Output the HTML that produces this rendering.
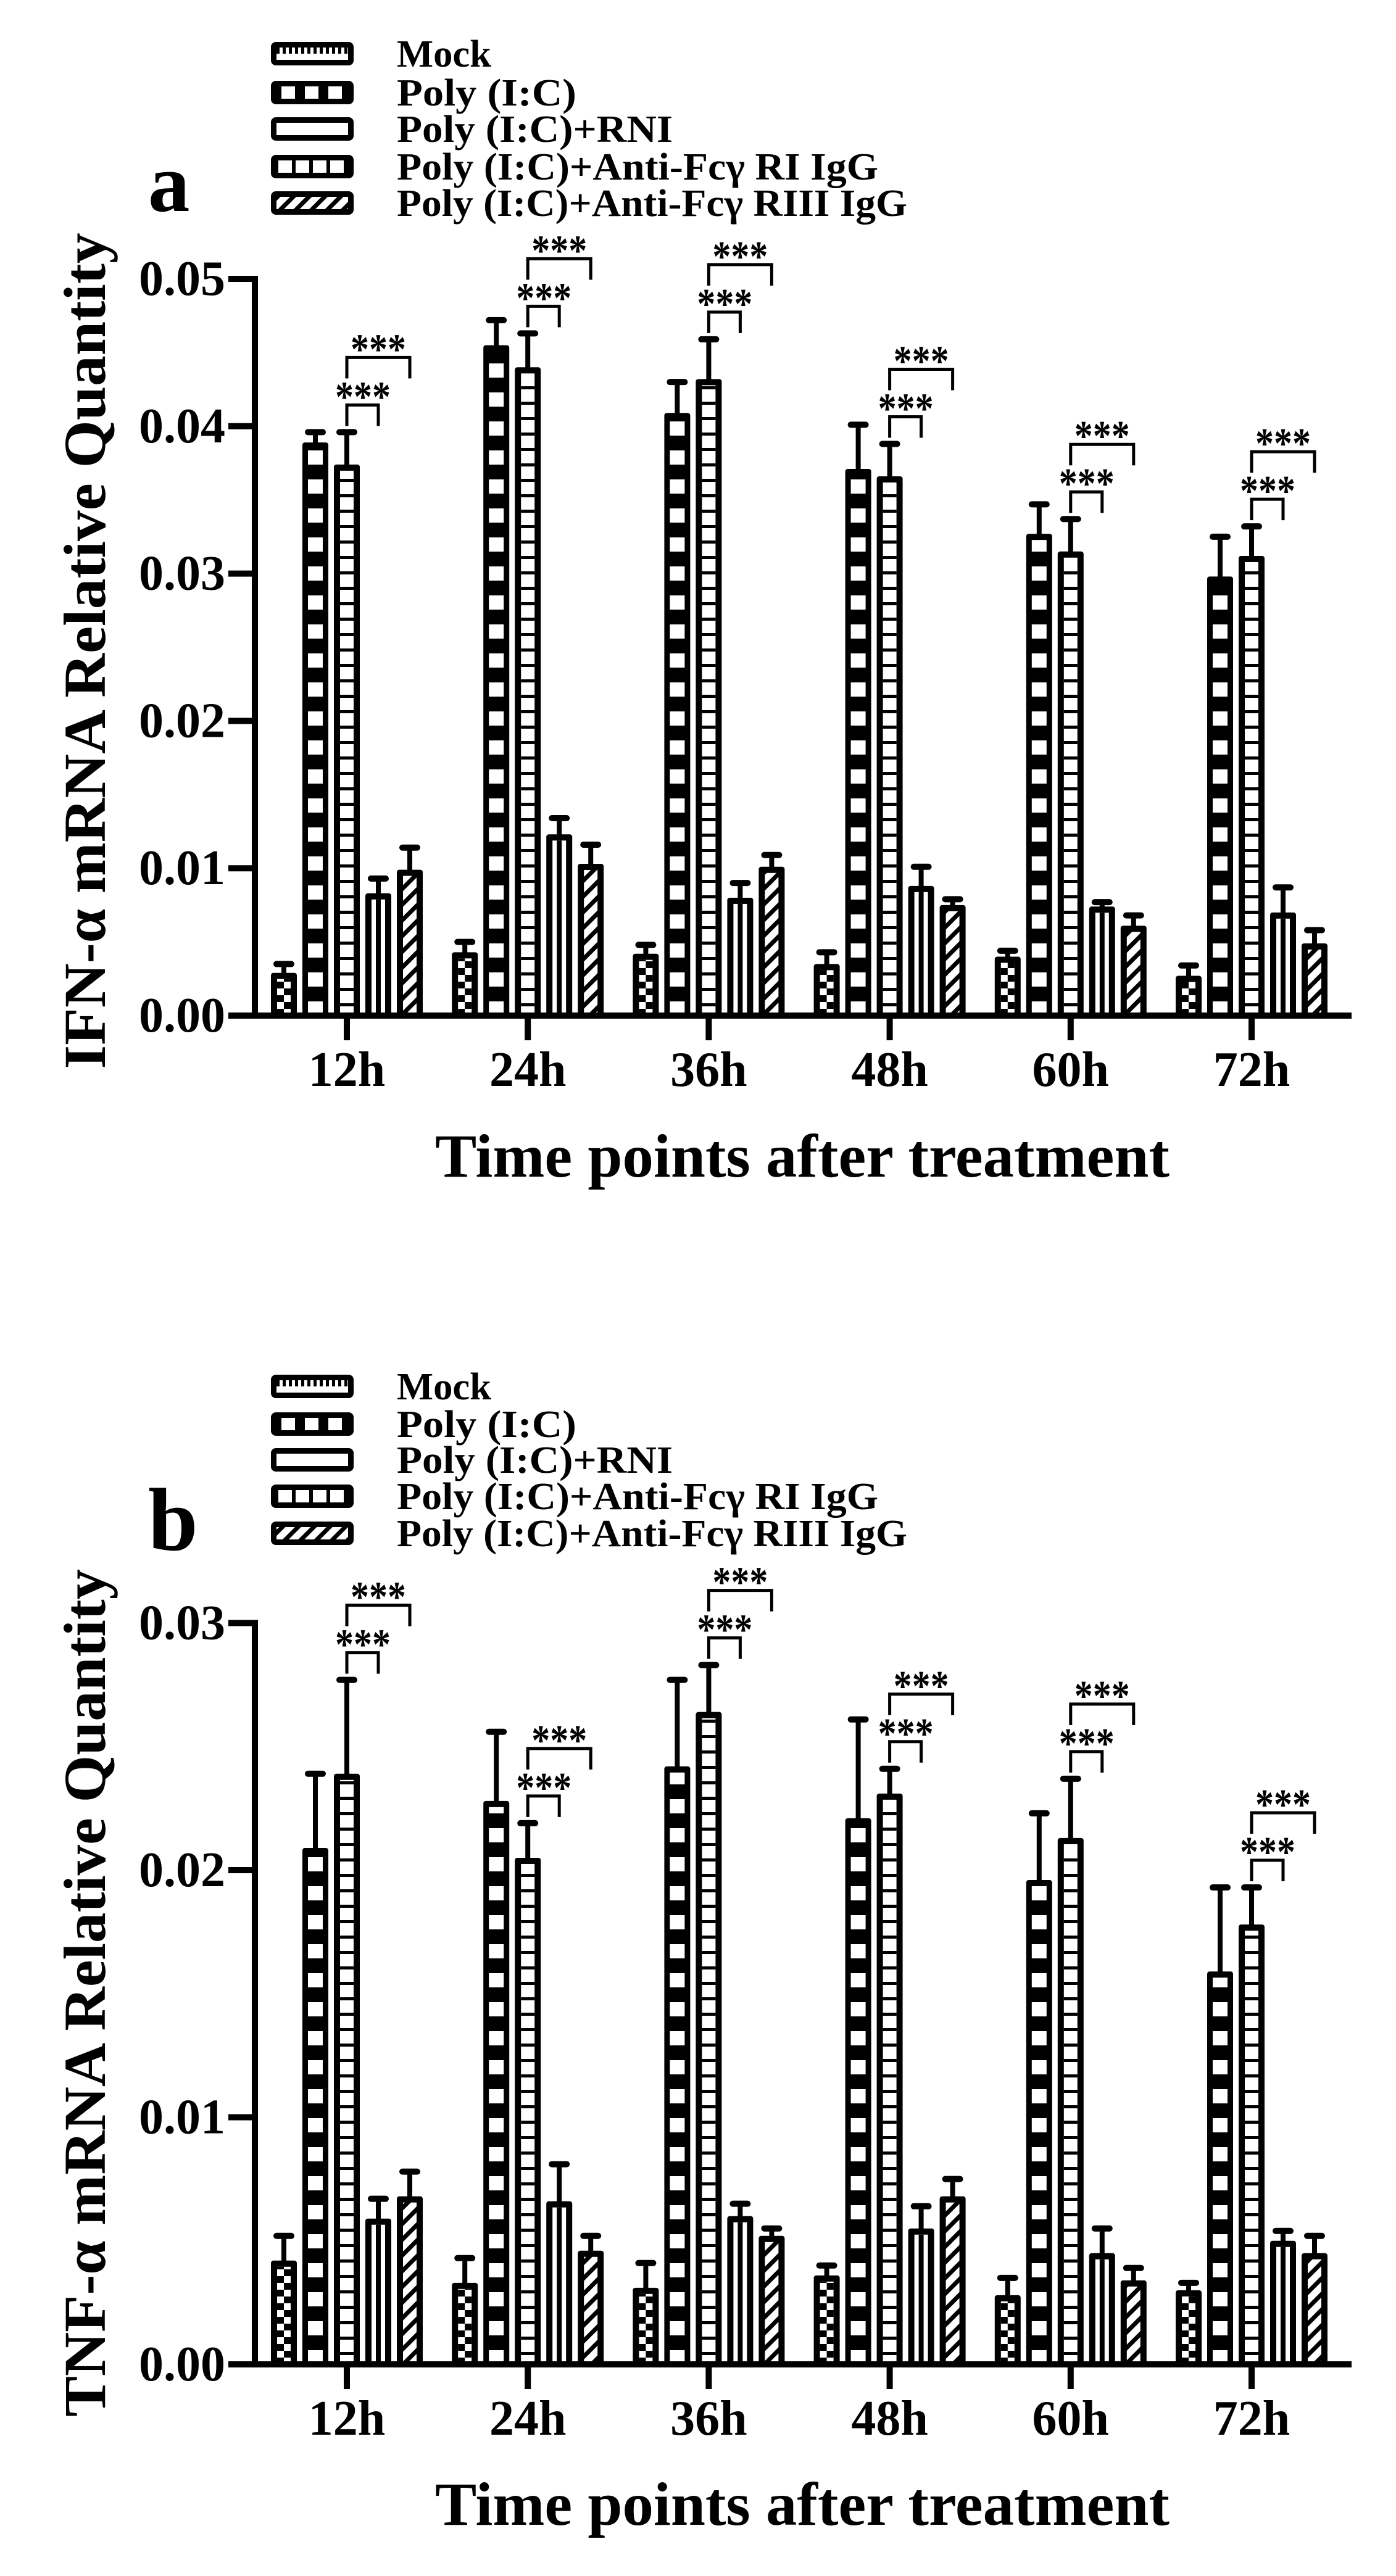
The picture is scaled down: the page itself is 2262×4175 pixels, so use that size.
<!DOCTYPE html>
<html><head><meta charset="utf-8"><style>
html,body{margin:0;padding:0;background:#fff}
svg{display:block}
text{font-family:"Liberation Serif",serif;font-weight:bold;fill:#000}
</style></head><body>
<svg id="s" xmlns="http://www.w3.org/2000/svg" width="2262" height="4175" viewBox="0 0 2262 4175">
<defs>
<pattern id="hatch" patternUnits="userSpaceOnUse" width="18" height="18" patternTransform="rotate(45)">
<rect width="18" height="18" fill="#fff"/><rect x="0" y="0" width="7" height="18" fill="#000"/>
</pattern>
</defs>
</svg>
<script>
var S=document.getElementById('s');var NS='http://www.w3.org/2000/svg';
function el(t,a,txt){var e=document.createElementNS(NS,t);for(var k in a)e.setAttribute(k,a[k]);if(txt!==undefined)e.textContent=txt;S.appendChild(e);return e;}
function R(x,y,w,h,f){if(h<=0||w<=0)return;el('rect',{x:x,y:y,width:w,height:h,fill:f});}
function L(x1,y1,x2,y2,w,cap){el('line',{x1:x1,y1:y1,x2:x2,y2:y2,stroke:'#000','stroke-width':w,'stroke-linecap':cap||'butt'});}
function T(x,y,s,txt,anchor,tl,extra){var a={x:x,y:y,'font-size':s,'text-anchor':anchor||'start'};if(tl){a.textLength=tl;a.lengthAdjust='spacingAndGlyphs';}if(extra)for(var k in extra)a[k]=extra[k];el('text',a,txt);}

function bar(type,x0,top,bot){
  var w=42,b=10;
  el('rect',{x:x0,y:top,width:w,height:bot-top,fill:'#000',rx:4});
  var ix=x0+b,iw=w-2*b,it=top+b,ih=bot-it;
  if(ih<=0)return;
  if(type==0){
    R(ix,it,iw,ih,'#fff');var c=11;
    for(var y=bot;y>it;y-=c){var r=Math.round((bot-y)/c);var yy=Math.max(it,y-c);
      R(ix+(r%2?c:0),yy,c,y-yy,'#000');}
  } else if(type==1){
    for(var y=bot;y>it;y-=47){var yy=Math.max(it,y-23);R(ix-1,yy,iw+2,y-yy,'#fff');}
  } else if(type==2){
    R(ix,it,iw,ih,'#fff');for(var y=bot-20;y>it;y-=25)R(ix,y,iw,5,'#000');
  } else if(type==3){
    R(ix,it,iw,ih,'#fff');R(ix+iw/2-4,it,8,ih,'#000');
  } else {
    el('rect',{x:ix,y:it,width:iw,height:ih,fill:'url(#hatch)'});
  }
}
function legendBox(type,x,y){
  var w=134,h=38,t=y-h/2;
  el('rect',{x:x,y:t,width:w,height:h,rx:8,fill:'#000'});
  var ix=x+9,iw=w-18,it=t+9,ih=h-18;
  if(type==0){R(ix,it,iw,ih,'#fff');for(var i=0;i<iw;i+=10)R(ix+i,it,5,ih/2,'#000');}
  else if(type==1){for(var i=0;i<3;i++)R(ix+8+i*38,it,22,ih,'#fff');}
  else if(type==2){R(ix,it,iw,ih,'#fff');}
  else if(type==3){for(var i=0;i<4;i++)R(ix+3+i*28,it,22,ih,'#fff');}
  else {el('rect',{x:ix,y:it,width:iw,height:ih,fill:'url(#hatch)'});}
}
var ticks=[];for(var i=0;i<6;i++)ticks.push(562+293.2*i);
var offs=[-102,-51,0,51,102];
var labels=['Mock','Poly (I:C)','Poly (I:C)+RNI','Poly (I:C)+Anti-Fc\u03b3  RI IgG','Poly (I:C)+Anti-Fc\u03b3  RIII IgG'];
var lw=[153,291,447,780,827];

function panel(o){
  var y0=o.y0,k=o.k;
  function Y(v){return y0-v*k;}
  for(var i=0;i<5;i++){legendBox(i,439,o.leg[i]);T(643,o.leg[i]+21,62,labels[i],'start',lw[i]);}
  T(240,o.letY,o.letS,o.letter);
  T(0,0,96,o.ylab,'middle',o.ylen,{transform:'translate(170,'+o.ycen+') rotate(-90)'});
  for(var g=0;g<6;g++){
    for(var j=0;j<5;j++){
      var v=o.d[g][j],e=o.e[g][j];var cx=ticks[g]+offs[j];
      var top=Y(v),et=Y(v+e);
      L(cx,top+2,cx,et,8);
      L(cx-12,et,cx+12,et,10,'round');
      bar(j,cx-21,top,y0);
    }
    var rt=Y(o.d[g][2]+o.e[g][2]);var cr=ticks[g];
    var sy=rt-44,ly=rt-121;
    el('path',{d:'M'+cr+' '+(sy+34)+' V'+sy+' H'+(cr+51)+' V'+(sy+34),fill:'none',stroke:'#000','stroke-width':5});
    el('path',{d:'M'+cr+' '+(ly+34)+' V'+ly+' H'+(cr+102)+' V'+(ly+34),fill:'none',stroke:'#000','stroke-width':5});
    T(cr+26,sy+10,70,'***','middle',90);
    T(cr+51,ly+10,70,'***','middle',90);
  }
  L(413,Y(o.max)-5,413,y0+5,10);
  L(408,y0,2190,y0,10);
  for(var t=0;t<=o.max+1e-9;t+=o.step){var yy=Y(t);L(370,yy,413,yy,10);T(365,yy+26,80,t.toFixed(2),'end');}
  for(var g=0;g<6;g++){L(ticks[g],y0,ticks[g],y0+40,10);T(ticks[g],y0+114,80,(12*(g+1))+'h','middle');}
  T(1300,o.tlY,100,'Time points after treatment','middle',1190);
}

panel({y0:1646,k:23880,max:0.05,step:0.01,leg:[87,150,209,270,329],letter:'a',letY:342,letS:135,
 ylab:'IFN-\u03b1 mRNA Relative Quantity',ylen:1355,ycen:1055,tlY:1907,
 d:[[0.0029,0.0389,0.0374,0.0083,0.0099],[0.0043,0.0455,0.0440,0.0123,0.0103],[0.0042,0.0409,0.0432,0.0080,0.0101],[0.0035,0.0371,0.0366,0.0088,0.0075],[0.0040,0.0327,0.0315,0.0074,0.0061],[0.0027,0.0298,0.0312,0.0070,0.0049]],
 e:[[0.0006,0.0007,0.0022,0.0010,0.0015],[0.0007,0.0017,0.0023,0.0011,0.0013],[0.0006,0.0021,0.0027,0.0010,0.0008],[0.0008,0.0030,0.0022,0.0013,0.0004],[0.0004,0.0020,0.0022,0.0003,0.0007],[0.0007,0.0027,0.0020,0.0017,0.0009]]});

panel({y0:3832,k:40050,max:0.03,step:0.01,leg:[2247,2308,2366,2425,2485],letter:'b',letY:2512,letS:145,
 ylab:'TNF-\u03b1 mRNA Relative Quantity',ylen:1374,ycen:3230,tlY:4092,
 d:[[0.0042,0.0209,0.0239,0.0059,0.0068],[0.0033,0.0228,0.0205,0.0066,0.0046],[0.0031,0.0242,0.0264,0.0060,0.0052],[0.0036,0.0221,0.0231,0.0055,0.0068],[0.0028,0.0196,0.0213,0.0045,0.0034],[0.0030,0.0159,0.0178,0.0050,0.0045]],
 e:[[0.0010,0.0030,0.0038,0.0008,0.0010],[0.0010,0.0028,0.0014,0.0015,0.0006],[0.0010,0.0035,0.0019,0.0005,0.0003],[0.0004,0.0040,0.0010,0.0009,0.0007],[0.0007,0.0027,0.0024,0.0010,0.0005],[0.0003,0.0034,0.0015,0.0004,0.0007]]});
</script>
</body></html>
